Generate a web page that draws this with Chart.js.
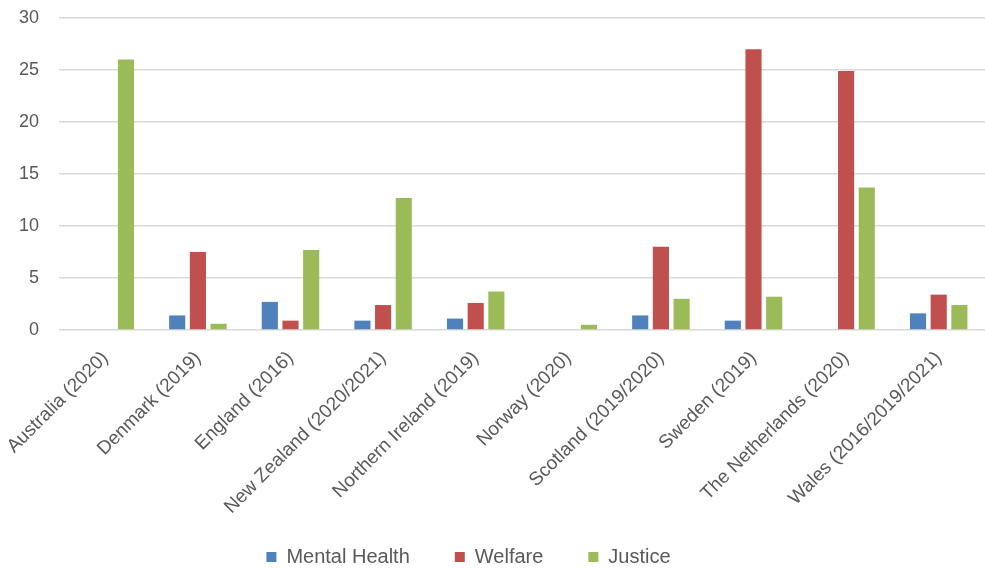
<!DOCTYPE html>
<html>
<head>
<meta charset="utf-8">
<script src="https://cdn.jsdelivr.net/npm/chart.js@4/dist/chart.umd.min.js"></script>
<style>
  html, body { margin: 0; padding: 0; background: #ffffff; }
  #wrap { width: 985px; height: 568px; position: relative; }
</style>
</head>
<body>
<div id="wrap"><canvas id="c"></canvas></div>
<script>
const categories = [
  "Australia (2020)", "Denmark (2019)", "England (2016)", "New Zealand (2020/2021)",
  "Northern Ireland (2019)", "Norway (2020)", "Scotland (2019/2020)", "Sweden (2019)",
  "The Netherlands (2020)", "Wales (2016/2019/2021)"
];
const mentalHealth = [0, 1.4, 2.7, 0.9, 1.1, 0, 1.4, 0.9, 0, 1.6];
const welfare      = [0, 7.5, 0.9, 2.4, 2.6, 0, 8.0, 27.0, 24.9, 3.4];
const justice      = [26, 0.6, 7.7, 12.7, 3.7, 0.5, 3.0, 3.2, 13.7, 2.4];
const yTicks = [0, 5, 10, 15, 20, 25, 30];

const FONT = "'Liberation Sans', Arial, sans-serif";
const TEXT = "#595959";

const legendFix = {
  id: 'legendFix',
  afterInit(chart) {
    const lg = chart.legend;
    if (lg && !lg._fixed) {
      const orig = lg.fit;
      lg.fit = function () { orig.call(this); this.height = 38; };
      lg._fixed = true;
    }
  },
  afterLayout(chart) {
    const lg = chart.legend;
    if (lg) {
      lg.left -= 24; lg.right -= 24;
      lg.top = 502; lg.bottom = 568;
    }
  }
};

new Chart(document.getElementById('c'), {
  type: 'bar',
  data: {
    labels: categories,
    datasets: [
      { label: 'Mental Health', data: mentalHealth, backgroundColor: '#4F81BD' },
      { label: 'Welfare', data: welfare, backgroundColor: '#C0504D' },
      { label: 'Justice', data: justice, backgroundColor: '#9BBB59' }
    ]
  },
  options: {
    responsive: true,
    maintainAspectRatio: false,
    animation: false,
    layout: { padding: { top: 18, right: 0, left: 0, bottom: 0 } },
    datasets: { bar: { categoryPercentage: 0.67, barPercentage: 0.78 } },
    scales: {
      x: {
        grid: { display: false, drawTicks: false },
        border: { display: false },
        ticks: {
          autoSkip: false, minRotation: 45, maxRotation: 45, padding: 17,
          color: TEXT, font: { family: FONT, size: 19 }
        },
        afterFit(scale) { scale.height = 200; scale.paddingLeft = 0; scale.paddingRight = 0; }
      },
      y: {
        min: 0, max: 30,
        afterBuildTicks(scale) { scale.ticks = yTicks.map(v => ({ value: v })); },
        grid: { color: '#d9d9d9', lineWidth: 1.5, drawTicks: false },
        border: { display: false },
        ticks: { padding: 20, color: TEXT, font: { family: FONT, size: 18 } },
        afterFit(scale) { scale.width = 59; scale.paddingTop = 0; scale.paddingBottom = 0; }
      }
    },
    plugins: {
      legend: {
        position: 'bottom',
        labels: {
          boxWidth: 10, boxHeight: 10, padding: 45,
          color: TEXT, font: { family: FONT, size: 20 }
        }
      },
      tooltip: { enabled: false }
    }
  },
  plugins: [legendFix]
});
</script>
</body>
</html>
